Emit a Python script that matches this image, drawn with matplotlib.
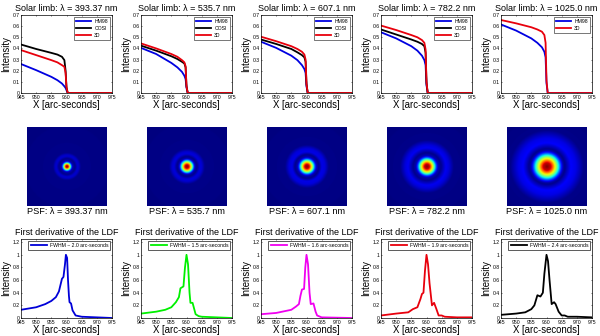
import numpy as np
import matplotlib
matplotlib.use("Agg")
import matplotlib.pyplot as plt

plt.rcParams['font.family'] = ['Liberation Sans', 'DejaVu Sans']

W = 600.0
H = 336.0
BLUE = "#0000e0"
BLACK = "#000000"
RED = "#e8000c"

WAVES = ["393.37", "535.7", "607.1", "782.2", "1025.0"]
LEFTS = [21, 141, 261, 381, 501]
PSF_LEFTS = [27, 147, 267, 387, 507]

# limb darkening curves, x in arc-seconds
limb_x = [945, 950, 955, 957, 958.5, 959.3, 959.7, 960, 960.4, 961, 975]
hm98 = [
    [.26, .205, .145, .115, .085, .06, .045, .025, 0, 0, 0],
    [.405, .35, .27, .23, .19, .155, .125, .05, 0, 0, 0],
    [.46, .405, .335, .295, .25, .215, .18, .06, 0, 0, 0],
    [.545, .49, .42, .38, .335, .295, .25, .07, 0, 0, 0],
    [.615, .56, .49, .45, .41, .37, .32, .09, 0, 0, 0],
]
cosi = [
    [.435, .395, .36, .345, .325, .295, .2, .05, 0, 0, 0],
    [.425, .38, .33, .305, .28, .265, .23, .06, 0, 0, 0],
    [.48, .44, .395, .365, .34, .32, .28, .08, 0, 0, 0],
    [.57, .525, .48, .46, .44, .42, .36, .09, 0, 0, 0],
    None,
]
three_d = [
    [.385, .34, .295, .275, .25, .235, .18, .05, 0, 0, 0],
    [.445, .4, .35, .325, .295, .275, .24, .06, 0, 0, 0],
    [.505, .465, .42, .395, .37, .345, .3, .08, 0, 0, 0],
    [.605, .565, .52, .5, .475, .45, .39, .1, 0, 0, 0],
    [.655, .625, .59, .57, .55, .52, .45, .11, 0, 0, 0],
]

# first derivative of the LDF
der_x = [
    [945, 950, 953, 955, 956.5, 957.5, 958, 958.5, 959, 959.5, 959.8, 960.2, 960.5, 960.8, 961, 961.5, 962, 963, 965, 970, 975],
    [945, 950, 953, 955, 956.5, 957.5, 958, 959, 959.5, 960, 960.5, 961, 961.3, 962, 962.5, 963, 964, 965, 970, 975],
    [945, 950, 955, 956.5, 957.5, 958, 958.5, 959.2, 959.6, 960, 960.5, 961, 961.4, 962.3, 963, 963.5, 965, 975],
    [945, 950, 954, 955.5, 957, 958, 958.5, 959, 959.5, 960, 960.5, 961, 961.8, 962.5, 963.2, 964, 965, 966, 970, 975],
    [945, 950, 953, 955, 956, 957, 958, 958.8, 959.3, 960, 960.5, 961, 961.7, 962.5, 963, 964, 965, 966, 967, 970, 975],
]
der_y = [
    [.13, .17, .22, .27, .33, .42, .52, .62, .65, .85, 1, .95, .6, .35, .25, .23, .12, .04, .02, .01, 0],
    [.07, .1, .13, .17, .25, .33, .47, .5, .8, 1, .85, .4, .24, .24, .15, .06, .03, .02, .01, 0],
    [.06, .08, .13, .18, .22, .35, .45, .46, .8, 1, .85, .4, .22, .23, .1, .04, .01, 0],
    [.04, .07, .09, .14, .17, .3, .38, .4, .75, 1, .85, .55, .2, .24, .15, .04, .04, .02, .01, .01],
    [.05, .07, .09, .14, .2, .36, .34, .4, .7, 1, .9, .6, .22, .25, .22, .1, .04, .04, .02, .02, .01],
]
der_colors = ["#0000d8", "#00f000", "#f000f0", "#e8000c", "#000000"]
fwhm = ["2.0", "1.5", "1.6", "1.9", "2.4"]

# PSF radial profiles, radius in pixels of the picture
psf_r = [
    [0, 1.3, 2.3, 3.3, 4.3, 5.5, 8, 10.5, 12, 14, 60],
    [0, 2, 3.5, 5, 6.5, 8, 10, 13, 15, 18, 60],
    [0, 2.3, 4, 5.8, 7.5, 9.5, 12, 15, 18, 22, 60],
    [0, 2.7, 4.7, 6.8, 8.8, 11, 14, 19, 22, 27, 60],
    [0, 4, 7, 10, 13, 16, 18, 24, 29, 37, 60],
]
psf_v = [
    [1, .93, .72, .5, .25, .05, .01, .07, .06, .01, 0],
    [1, .93, .72, .5, .25, .05, .01, .08, .07, .01, 0],
    [1, .93, .72, .5, .25, .05, .01, .09, .08, .01, 0],
    [1, .93, .72, .5, .25, .05, .01, .1, .08, .01, 0],
    [1, .93, .72, .5, .25, .05, .01, .11, .09, .01, 0],
]


def make_axes(fig, left, top, w, h):
    return fig.add_axes([left / W, 1 - (top + h) / H, w / W, h / H])


def style_axes(ax, ylim, yticks, yticklabels):
    ax.set_xlim(945, 975)
    ax.set_ylim(*ylim)
    ax.set_xticks(range(945, 976, 5))
    ax.set_yticks(yticks)
    ax.set_yticklabels(yticklabels)
    ax.tick_params(direction="in", length=1.0, width=0.4, labelsize=3.7, pad=0.8, top=True, right=True)
    ax.tick_params(axis="x", pad=1.5)
    for s in ax.spines.values():
        s.set_linewidth(0.5)
    ax.set_xlabel("X [arc-seconds]", fontsize=6.9, labelpad=0.2)
    ax.set_ylabel("Intensity", fontsize=6.9, labelpad=1.5)


fig = plt.figure(figsize=(6, 3.36), dpi=100)

for i, wave in enumerate(WAVES):
    # top row
    ax = make_axes(fig, LEFTS[i], 15, 91, 78)
    ax.plot(limb_x, hm98[i], color=BLUE, lw=1.3, label="HM98")
    if cosi[i] is not None:
        ax.plot(limb_x, cosi[i], color=BLACK, lw=1.3, label="COSI")
    ax.plot(limb_x, three_d[i], color=RED, lw=1.3, label="3D")
    style_axes(ax, (0, 0.7), np.arange(0, 0.71, 0.1), ["0", "0.1", "0.2", "0.3", "0.4", "0.5", "0.6", "0.7"])
    ax.set_title(f"Solar limb: \u03bb = {wave} nm", fontsize=6.5, pad=2.6)
    leg = ax.legend(loc="upper right", fontsize=3.7, frameon=True, fancybox=False, framealpha=1,
                    edgecolor="#404040", borderpad=0.4, labelspacing=0.35, handlelength=3.0,
                    handletextpad=0.6, borderaxespad=0.4)
    leg.get_frame().set_linewidth(0.5)

    # PSF row
    ax = make_axes(fig, PSF_LEFTS[i], 127, 80, 79)
    yy, xx = np.mgrid[-40:40:160j, -40:40:160j]
    img = np.interp(np.hypot(xx, yy), psf_r[i], psf_v[i])
    ax.imshow(img, cmap="jet", vmin=0, vmax=1, extent=[-40, 40, -40, 40], aspect="auto", interpolation="bilinear")
    ax.axis("off")
    fig.text((PSF_LEFTS[i] + 40) / W, 1 - 212 / H, f"PSF: \u03bb = {wave} nm", fontsize=6.6, ha="center", va="center")

    # bottom row
    ax = make_axes(fig, LEFTS[i], 239, 91, 79)
    ax.plot(der_x[i], der_y[i], color=der_colors[i], lw=1.3, label=f"FWHM ~ {fwhm[i]} arc-seconds")
    style_axes(ax, (0, 1.25), [0, 0.2, 0.4, 0.6, 0.8, 1, 1.2], ["0", "0.2", "0.4", "0.6", "0.8", "1", "1.2"])
    ax.set_title("First derivative of the LDF", fontsize=6.5, pad=2.6)
    leg = ax.legend(loc="upper right", fontsize=3.7, frameon=True, fancybox=False, framealpha=1,
                    edgecolor="#404040", borderpad=0.4, handlelength=3.2, handletextpad=0.5, borderaxespad=0.35)
    leg.get_frame().set_linewidth(0.6)

fig.savefig("out.png", dpi=100)
